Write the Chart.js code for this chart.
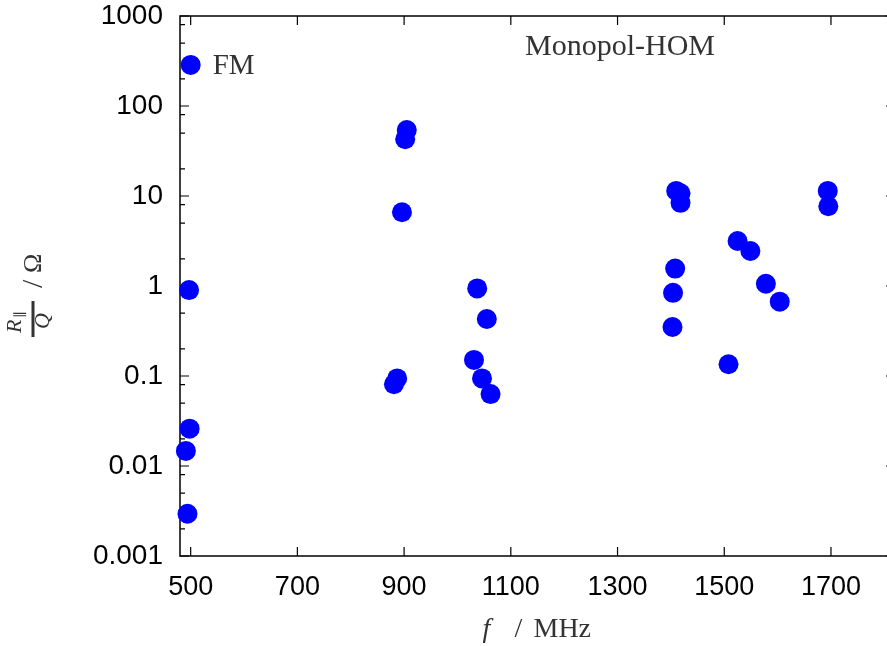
<!DOCTYPE html>
<html>
<head>
<meta charset="utf-8">
<script src="https://cdn.jsdelivr.net/npm/chart.js@4.4.0/dist/chart.umd.min.js"></script>
<style>
  html, body { margin: 0; padding: 0; background: #fff; overflow: hidden; }
  #wrap { width: 905px; height: 646px; }
</style>
</head>
<body>
<div id="wrap"><canvas id="chart" width="905" height="646"></canvas></div>
<script>
// fundamental mode
var fmFreq = [500];
var fmRQ = [286];

// monopole higher order modes (MHz, Ohm)
var homFreq = [497, 498, 491, 494, 905, 902, 896, 887, 881, 1037, 1055, 1031, 1046, 1062,
               1410, 1418, 1418, 1408, 1404, 1403, 1508, 1525, 1549, 1578, 1604, 1694, 1695];
var homRQ = [0.90, 0.026, 0.0147, 0.00295, 54, 42.7, 6.6, 0.094, 0.081, 0.94, 0.43, 0.151, 0.094, 0.063,
             11.4, 10.7, 8.4, 1.56, 0.84, 0.35, 0.135, 3.16, 2.45, 1.06, 0.67, 11.4, 7.7];

var xTicks = [500, 700, 900, 1100, 1300, 1500, 1700];
var yMajor = [0.001, 0.01, 0.1, 1, 10, 100, 1000];
var yLabels = ['0.001', '0.01', '0.1', '1', '10', '100', '1000'];
var yMinor = [0.002, 0.005, 0.008, 0.02, 0.05, 0.08, 0.2, 0.5, 0.8, 2, 5, 8, 20, 50, 80, 200, 500, 800];

var serif = "'Liberation Serif', 'DejaVu Serif', serif";
var sans = "'Liberation Sans', Arial, sans-serif";

var framePlugin = {
    id: 'frame',
    beforeDatasetsDraw: function (chart) {
        var ctx = chart.ctx, a = chart.chartArea;
        var xs = chart.scales.x, ys = chart.scales.y;
        ctx.save();
        ctx.strokeStyle = '#000';
        ctx.lineWidth = 1.5;
        ctx.strokeRect(a.left, a.top, a.right - a.left, a.bottom - a.top);
        ctx.lineWidth = 1.2;
        ctx.beginPath();
        xTicks.forEach(function (v) {
            var px = xs.getPixelForValue(v);
            ctx.moveTo(px, a.bottom); ctx.lineTo(px, a.bottom - 9);
            ctx.moveTo(px, a.top); ctx.lineTo(px, a.top + 9);
        });
        yMajor.forEach(function (v) {
            var py = ys.getPixelForValue(v);
            ctx.moveTo(a.left, py); ctx.lineTo(a.left + 9, py);
            ctx.moveTo(a.right, py); ctx.lineTo(a.right - 9, py);
        });
        yMinor.forEach(function (v) {
            var py = ys.getPixelForValue(v);
            ctx.moveTo(a.left, py); ctx.lineTo(a.left + 5, py);
            ctx.moveTo(a.right, py); ctx.lineTo(a.right - 5, py);
        });
        ctx.stroke();
        ctx.restore();
    },
    afterDraw: function (chart) {
        var ctx = chart.ctx, a = chart.chartArea;
        var xs = chart.scales.x, ys = chart.scales.y;
        ctx.save();
        ctx.fillStyle = '#333';
        ctx.textBaseline = 'alphabetic';

        // labels inside the plot
        ctx.font = '29px ' + serif;
        ctx.fillText('FM', xs.getPixelForValue(fmFreq[0]) + 22, ys.getPixelForValue(fmRQ[0]) + 9);
        ctx.font = '30px ' + serif;
        ctx.fillText('Monopol-HOM', a.left + 345, a.top + 39);

        // x axis title: f / MHz
        var cx = (a.left + a.right) / 2;
        var by = 637;
        ctx.font = 'italic 28px ' + serif;
        ctx.fillText('f', cx - 55, by);
        ctx.font = '28px ' + serif;
        ctx.fillText('/', cx - 23, by);
        ctx.fillText('MHz', cx - 4, by);

        // y axis title: R_par / Q / Omega (rotated)
        ctx.translate(33, 338);
        ctx.rotate(-Math.PI / 2);
        ctx.font = 'italic 22px ' + serif;
        ctx.fillText('R', 5, -12);
        ctx.font = '14px ' + serif;
        ctx.fillText('\u2225', 20, -8);
        ctx.fillRect(1, -1.5, 36, 3);
        ctx.font = 'italic 22px ' + serif;
        ctx.fillText('Q', 9, 16);
        ctx.font = '30px ' + serif;
        ctx.fillText('/', 50, 9);
        ctx.font = '26px ' + serif;
        ctx.fillText('\u03A9', 65, 8);
        ctx.restore();
    }
};

var config = {
    type: 'scatter',
    data: {
        datasets: [{
            label: 'FM',
            data: fmFreq.map(function (f, i) { return { x: f, y: fmRQ[i] }; }),
            backgroundColor: '#0000ff',
            borderColor: '#0000ff',
            pointRadius: 10,
            borderWidth: 0,
            clip: false
        }, {
            label: 'Monopol-HOM',
            data: homFreq.map(function (f, i) { return { x: f, y: homRQ[i] }; }),
            backgroundColor: '#0000ff',
            borderColor: '#0000ff',
            pointRadius: 10,
            borderWidth: 0,
            clip: false
        }]
    },
    options: {
        responsive: false,
        animation: false,
        devicePixelRatio: 1,
        layout: { padding: { top: 16, right: 0, left: 0, bottom: 0 } },
        plugins: {
            legend: { display: false },
            tooltip: { enabled: false }
        },
        scales: {
            x: {
                type: 'linear',
                position: 'bottom',
                min: 480,
                max: 1820,
                grid: { display: false, drawTicks: false },
                border: { display: false },
                afterBuildTicks: function (scale) {
                    scale.ticks = xTicks.map(function (v) { return { value: v }; });
                },
                afterFit: function (scale) {
                    scale.height = 90;
                    scale.paddingLeft = 0;
                    scale.paddingRight = 0;
                },
                ticks: {
                    color: '#000',
                    font: { family: sans, size: 27 },
                    padding: 15,
                    maxRotation: 0,
                    autoSkip: false,
                    callback: function (v) { return String(v); }
                }
            },
            y: {
                type: 'logarithmic',
                min: 0.001,
                max: 1000,
                grid: { display: false, drawTicks: false },
                border: { display: false },
                afterBuildTicks: function (scale) {
                    scale.ticks = yMajor.map(function (v) { return { value: v }; });
                },
                afterFit: function (scale) {
                    scale.width = 180;
                    scale.paddingTop = 0;
                    scale.paddingBottom = 0;
                },
                ticks: {
                    color: '#000',
                    font: { family: sans, size: 28 },
                    padding: 17,
                    autoSkip: false,
                    callback: function (v) {
                        var i = yMajor.indexOf(v);
                        return i >= 0 ? yLabels[i] : '';
                    }
                }
            }
        }
    },
    plugins: [framePlugin]
};

var ctx = document.getElementById('chart').getContext('2d');
window.myChart = new Chart(ctx, config);
</script>
</body>
</html>
